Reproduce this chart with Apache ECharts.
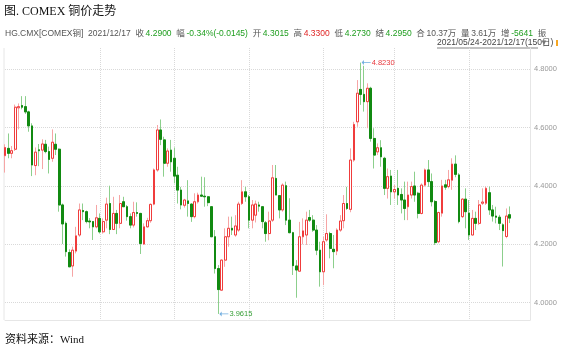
<!DOCTYPE html>
<html><head><meta charset="utf-8">
<script src="https://cdn.jsdelivr.net/npm/echarts@6/dist/echarts.min.js"></script>
<style>html,body{margin:0;padding:0;background:#fff}#c{width:564px;height:354px}</style>
</head><body><div id="c"></div>
<script>
// ---- data ----
const opens = [4.504,4.529,4.512,4.526,4.668,4.676,4.672,4.654,4.606,4.470, 4.524,4.523,4.543,4.518,4.495,4.543,4.526,4.335,4.272,4.172, 4.126,4.177,4.232,4.316,4.312,4.280,4.278,4.260,4.289,4.243, 4.283,4.340,4.251,4.306,4.272,4.346,4.329,4.295,4.266,4.309, 4.306,4.201,4.260,4.281,4.338,4.455,4.592,4.558,4.478,4.523, 4.495,4.437,4.386,4.334,4.349,4.338,4.295,4.346,4.369,4.365, 4.363,4.329,4.226,4.117,4.043,4.146,4.226,4.255,4.232,4.249, 4.340,4.380,4.363,4.283,4.300,4.335,4.329,4.274,4.237,4.283, 4.426,4.367,4.318,4.401,4.283,4.240,4.126,4.108,4.226,4.232, 4.292,4.283,4.249,4.180,4.106,4.215,4.237,4.183,4.177,4.249, 4.281,4.340,4.320,4.489,4.620,4.731,4.714,4.689,4.735,4.563, 4.517,4.531,4.495,4.392,4.434,4.380,4.392,4.371,4.352,4.329, 4.369,4.400,4.375,4.306,4.403,4.455,4.415,4.347,4.209,4.307, 4.404,4.398,4.420,4.475,4.438,4.295,4.355,4.307,4.232,4.289, 4.272,4.341,4.341,4.377,4.318,4.297,4.293,4.267,4.227,4.3015];
const closes = [4.532,4.512,4.521,4.670,4.672,4.670,4.654,4.606,4.472,4.516, 4.521,4.544,4.518,4.491,4.550,4.526,4.335,4.270,4.175,4.123, 4.180,4.229,4.318,4.312,4.278,4.277,4.260,4.291,4.243,4.278, 4.338,4.251,4.306,4.272,4.340,4.329,4.295,4.266,4.309,4.306, 4.203,4.260,4.281,4.337,4.455,4.592,4.560,4.478,4.520,4.483, 4.434,4.386,4.335,4.352,4.340,4.295,4.346,4.369,4.365,4.363, 4.343,4.226,4.117,4.045,4.146,4.226,4.255,4.249,4.263,4.338, 4.380,4.363,4.283,4.335,4.338,4.331,4.278,4.237,4.280,4.428, 4.369,4.318,4.403,4.283,4.240,4.127,4.112,4.226,4.246,4.283, 4.283,4.249,4.180,4.106,4.209,4.237,4.186,4.175,4.249,4.280, 4.340,4.323,4.489,4.611,4.718,4.714,4.689,4.735,4.563,4.506, 4.531,4.500,4.392,4.432,4.380,4.388,4.369,4.352,4.323,4.369, 4.398,4.369,4.306,4.403,4.455,4.415,4.346,4.206,4.309,4.400, 4.396,4.421,4.475,4.440,4.278,4.355,4.312,4.232,4.289,4.272, 4.335,4.345,4.392,4.318,4.297,4.293,4.272,4.247,4.297,4.2900];
const lows = [4.446,4.495,4.495,4.520,4.594,4.663,4.647,4.586,4.434,4.437, 4.468,4.458,4.512,4.443,4.483,4.506,4.312,4.201,4.158,4.123, 4.089,4.169,4.226,4.283,4.272,4.255,4.215,4.255,4.237,4.237, 4.255,4.235,4.249,4.235,4.255,4.329,4.281,4.255,4.258,4.295, 4.167,4.198,4.258,4.274,4.334,4.449,4.540,4.432,4.466,4.449, 4.409,4.340,4.320,4.326,4.295,4.277,4.289,4.340,4.363,4.329, 4.331,4.226,4.100,3.9615,4.041,4.123,4.192,4.232,4.226,4.243, 4.335,4.346,4.255,4.255,4.275,4.312,4.255,4.209,4.214,4.277, 4.369,4.289,4.312,4.266,4.238,4.095,4.017,4.106,4.200,4.198, 4.277,4.243,4.163,4.055,4.060,4.209,4.152,4.118,4.163,4.243, 4.255,4.318,4.310,4.483,4.603,4.678,4.655,4.598,4.552,4.460, 4.506,4.466,4.369,4.357,4.335,4.357,4.335,4.306,4.283,4.283, 4.357,4.346,4.289,4.303,4.398,4.397,4.330,4.198,4.204,4.295, 4.387,4.392,4.387,4.430,4.272,4.290,4.255,4.215,4.232,4.249, 4.266,4.335,4.335,4.301,4.278,4.272,4.249,4.124,4.221,4.2730];
const highs = [4.543,4.580,4.537,4.679,4.683,4.708,4.708,4.658,4.615,4.532, 4.544,4.560,4.558,4.535,4.594,4.580,4.529,4.340,4.278,4.183, 4.192,4.260,4.340,4.340,4.316,4.290,4.280,4.335,4.306,4.289, 4.360,4.401,4.363,4.318,4.369,4.363,4.335,4.306,4.346,4.344, 4.308,4.272,4.291,4.340,4.460,4.609,4.628,4.569,4.529,4.558, 4.532,4.466,4.397,4.356,4.420,4.340,4.375,4.377,4.432,4.430, 4.366,4.331,4.249,4.129,4.148,4.255,4.295,4.295,4.300,4.346, 4.420,4.397,4.369,4.352,4.350,4.346,4.331,4.280,4.312,4.472, 4.472,4.369,4.409,4.415,4.358,4.243,4.146,4.277,4.289,4.312, 4.318,4.300,4.266,4.209,4.226,4.303,4.243,4.232,4.255,4.300, 4.369,4.397,4.529,4.620,4.763,4.823,4.812,4.752,4.740,4.598, 4.546,4.557,4.500,4.460,4.455,4.403,4.455,4.392,4.415,4.415, 4.415,4.449,4.380,4.409,4.460,4.489,4.443,4.352,4.312,4.421, 4.421,4.455,4.495,4.505,4.444,4.358,4.392,4.352,4.318,4.312, 4.352,4.392,4.398,4.398,4.335,4.329,4.301,4.272,4.323,4.3300];
const yTicks = [4.0, 4.2, 4.4, 4.6, 4.8];
const gridIdx = [28, 50, 72, 94, 115, 137];   // vertical dotted lines (first candle of a month)
const slotCount = 156;                        // 150 candles + empty slots to the right edge
const titleText = '图. COMEX 铜价走势';
const sourceText = '资料来源：Wind';
const rangeText = '2021/05/24-2021/12/17(150日)';
// [label, labelColor, value, valueColor]
const infoItems = [
  ['HG.CMX[COMEX铜]', 'k', '', 'k'], ['2021/12/17', 'k', '', 'k'],
  ['收', 'k', '4.2900', 'g'], ['幅', 'k', '-0.34%(-0.0145)', 'g'],
  ['开', 'k', '4.3015', 'g'], ['高', 'k', '4.3300', 'r'],
  ['低', 'k', '4.2730', 'g'], ['结', 'k', '4.2950', 'g'],
  ['合', 'k', '10.37万', 'k'], ['量', 'k', '3.61万', 'k'],
  ['增', 'k', '-5641', 'g'], ['振', 'k', '', 'k']
];

// categories: trading weekdays from 2021/05/24
const categories = [];
for (let d = new Date(2021, 4, 24); categories.length < slotCount; d.setDate(d.getDate() + 1)) {
  const w = d.getDay();
  if (w === 0 || w === 6) continue;
  categories.push(d.getFullYear() + '/' + String(d.getMonth() + 1).padStart(2, '0') + '/' + String(d.getDate()).padStart(2, '0'));
}
const ohlc = opens.map((o, i) => [o, closes[i], lows[i], highs[i]]);
const bodies = opens.map((o, i) => [o, closes[i], Math.min(o, closes[i]), Math.max(o, closes[i])]);

const sansFont = '"Liberation Sans","Noto Sans CJK SC",sans-serif';
const serifFont = '"Liberation Serif","Noto Sans CJK SC",serif';
const infoText = infoItems.map(([l, lc, v, vc]) => '{' + lc + '|' + l + '}' + (v ? '{' + vc + '|\u2009' + v + '}' : '')).join('{s|  }');
const graphics = [
  {type: 'text', x: 4, y: 12, style: {text: titleText, font: '12px ' + serifFont, fill: '#111', verticalAlign: 'middle'}},
  {type: 'text', x: 5, y: 340, style: {text: sourceText, font: '11px ' + serifFont, fill: '#111', verticalAlign: 'middle'}},
  {type: 'text', x: 5, y: 34, style: {text: infoText, font: '8.5px ' + sansFont, verticalAlign: 'middle',
    rich: {k: {fill: '#555', font: '8.5px ' + sansFont}, g: {fill: '#1f9e1f', font: '8.5px ' + sansFont}, r: {fill: '#e02424', font: '8.5px ' + sansFont}, s: {font: '8.5px ' + sansFont}}}},
  {type: 'text', x: 437, y: 43, style: {text: rangeText, font: '8.5px ' + sansFont, fill: '#444', verticalAlign: 'middle'}},
  {type: 'line', shape: {x1: 437, y1: 48, x2: 538, y2: 48}, style: {stroke: '#666', lineWidth: 0.8}},
  {type: 'text', x: 540, y: 43, style: {text: '▼', font: '8px ' + sansFont, fill: '#777', verticalAlign: 'middle'}},
  {type: 'rect', shape: {x: 556, y: 40, width: 2, height: 6}, style: {fill: '#f5a623'}},
  {type: 'line', shape: {x1: 4, y1: 48, x2: 4, y2: 320}, style: {stroke: '#e6e6e6', lineWidth: 1}}
];

const chart = echarts.init(document.getElementById('c'), null, {renderer: 'canvas'});
chart.setOption({
  animation: false,
  backgroundColor: '#fff',
  grid: {left: 5, right: 34, top: 48, bottom: 34},
  xAxis: {
    type: 'category', data: categories, boundaryGap: false,
    axisLine: {show: true, lineStyle: {color: '#e6e6e6'}},
    axisTick: {show: false}, axisLabel: {show: false},
    splitLine: {show: true, interval: (idx) => gridIdx.indexOf(idx) >= 0, lineStyle: {color: '#d9d9d9', type: 'dotted'}}
  },
  yAxis: {
    type: 'value', position: 'right', min: 3.9407, max: 4.8730, scale: true,
    axisLine: {show: true, lineStyle: {color: '#e6e6e6'}},
    axisTick: {show: false, customValues: yTicks},
    axisLabel: {customValues: yTicks, formatter: v => v.toFixed(4), color: '#999', fontSize: 7.5, fontFamily: sansFont, margin: 4},
    splitLine: {show: true, lineStyle: {color: '#d9d9d9', type: 'dotted'}}
  },
  graphic: graphics,
  series: [
    {
      type: 'candlestick', data: ohlc, barWidth: 2.2, clip: false, silent: true,
      itemStyle: {color: '#f6a5a5', color0: '#8ccf8c', borderColor: '#f6a5a5', borderColor0: '#8ccf8c', borderWidth: 1},
      markPoint: {
        symbol: 'path://M0,3 L5,0 L5,2.5 L20,2.5 L20,3.5 L5,3.5 L5,6 Z',
        symbolSize: [9, 5], symbolOffset: [5.5, 0],
        itemStyle: {color: '#72aee0'},
        label: {show: true, position: 'right', distance: 1, fontSize: 7.5, fontFamily: sansFont, formatter: p => Number(p.value).toFixed(4)},
        data: [
          {type: 'max', valueDim: 'highest', label: {color: '#e8383d'}},
          {type: 'min', valueDim: 'lowest', label: {color: '#3aa03a'}}
        ]
      }
    },
    {
      type: 'candlestick', data: bodies, barWidth: 2.2, clip: false, silent: true,
      itemStyle: {color: '#ffffff', color0: '#118a11', borderColor: '#f03c3c', borderColor0: '#118a11', borderWidth: 1}
    }
  ]
});
</script></body></html>
